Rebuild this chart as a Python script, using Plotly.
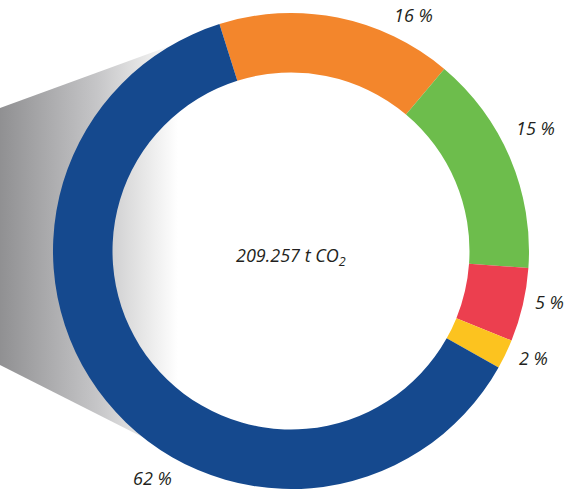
import plotly.graph_objects as go

# Emission shares by source (percent of total CO2)
shares = [16, 15, 5, 2, 62]
colors = ["#f3862c", "#6dbd4c", "#ec3f4f", "#fcc31f", "#15498e"]
share_labels = [f"{v} %" for v in shares]
total_label = "209.257 t CO<sub>2</sub>"

W, H = 571, 491
CX, CY, R = 291, 251, 238  # donut centre / outer radius in pixels

fig = go.Figure()

# Grey wedge fading into the donut from the left edge
fig.add_trace(go.Scatter(
    x=[0, 178, 178, 0, 0],
    y=[108, 43, 455, 365, 108],
    mode="lines",
    line=dict(width=0),
    fill="toself",
    fillgradient=dict(
        type="horizontal",
        colorscale=[[0, "#909092"], [0.55, "#c6c6c8"], [0.8, "#e6e6e6"], [1, "#ffffff"]],
    ),
    hoverinfo="skip",
    showlegend=False,
))

fig.add_trace(go.Pie(
    values=shares,
    marker=dict(colors=colors, line=dict(width=0)),
    hole=0.75,
    sort=False,
    direction="clockwise",
    rotation=-17.5,
    textinfo="none",
    hoverinfo="skip",
    showlegend=False,
    domain=dict(x=[(CX - R) / W, (CX + R) / W],
                y=[(H - CY - R) / H, (H - CY + R) / H]),
))

font = dict(family="Open Sans", size=18, color="#231f20")

# Percentage labels placed around the ring
label_pos = [(413, 15), (535, 128), (549, 302), (533, 358), (152, 478)]
for text, (lx, ly) in zip(share_labels, label_pos):
    fig.add_annotation(x=lx, y=ly, xref="x", yref="y", text=f"<i>{text}</i>",
                       showarrow=False, font=font, xanchor="center", yanchor="middle")

fig.add_annotation(x=CX, y=CY + 5, xref="x", yref="y", text=f"<i>{total_label}</i>",
                   showarrow=False, font=font, xanchor="center", yanchor="middle")

fig.update_xaxes(range=[0, W], visible=False, fixedrange=True)
fig.update_yaxes(range=[H, 0], visible=False, fixedrange=True)
fig.update_layout(
    width=W, height=H,
    margin=dict(l=0, r=0, t=0, b=0),
    paper_bgcolor="white", plot_bgcolor="white",
)

fig.write_html("out.html", config={"displayModeBar": False})
